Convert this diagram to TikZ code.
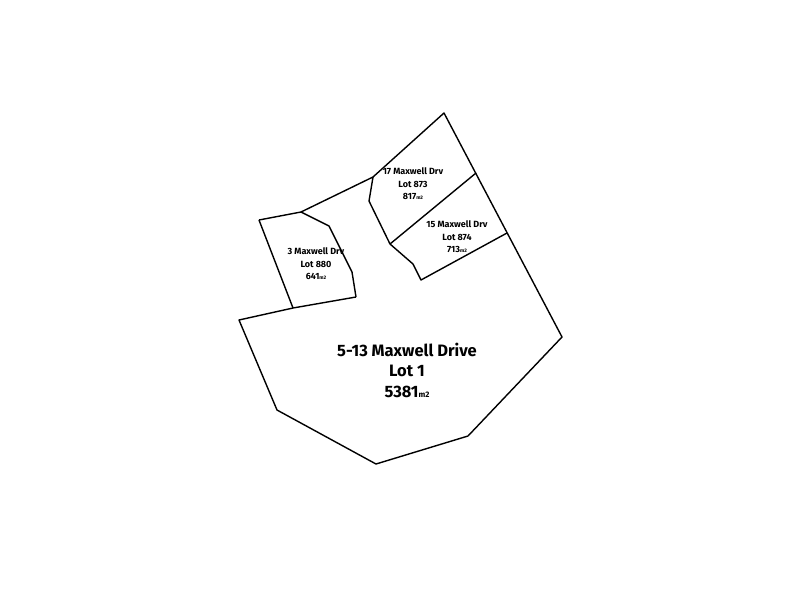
\documentclass[tikz,border=0pt]{standalone}
\usepackage{fontspec}
\setmainfont{Fira Sans}
\begin{document}
\begin{tikzpicture}[x=1pt,y=-1pt,line width=1.4pt,line join=round,
  lotlabel/.style={align=center,font=\fontsize{9}{12.5}\selectfont\bfseries},
  mainlabel/.style={align=center,font=\fontsize{16.5}{20.5}\selectfont\bfseries}]
      \useasboundingbox (0,0) rectangle (800,600);

      % main lot
      \draw (356,297) -- (293,308) -- (239,320) -- (277,410) -- (376,464) -- (468,436) -- (562,337) -- (444,113) -- (373,177) -- (301,212) -- (259,220);
      % 3 Maxwell Drv
      \draw (259,220) -- (293,308);
      \draw (301,212) -- (329,226) -- (352,272) -- (356,297);
      % 17 and 15 Maxwell Drv
      \draw (373,177) -- (369,201) -- (390,244) -- (413,264) -- (421,280) -- (507,233);
      \draw (390,244) -- (476,173);

      \node[lotlabel] (l880) at (316,264) {3 Maxwell Drv\\Lot 880\\641{\tiny m2}};
      \node[lotlabel] (l873) at (413,184) {17 Maxwell Drv\\Lot 873\\817{\tiny m2}};
      \node[lotlabel] (l874) at (457,237) {15 Maxwell Drv\\Lot 874\\713{\tiny m2}};
      \node[mainlabel] (l1) at (407,370) {5-13 Maxwell Drive\\Lot 1\\5381{\footnotesize m2}};
\end{tikzpicture}
\end{document}
